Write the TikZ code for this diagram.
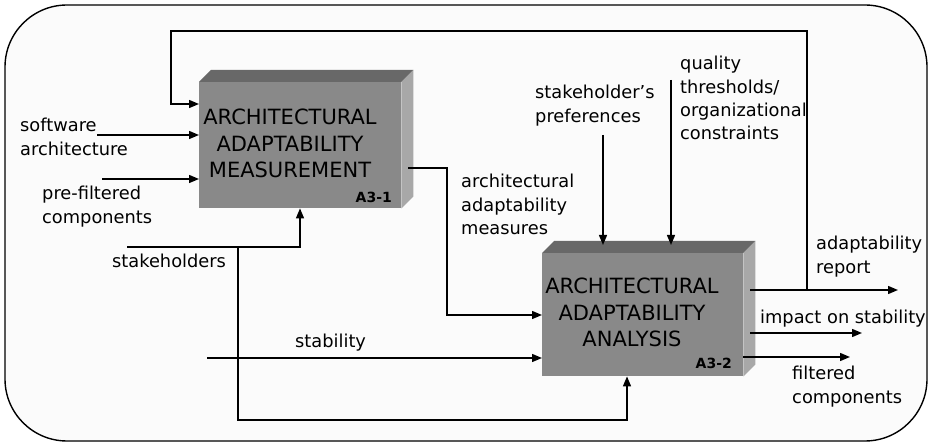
\documentclass[tikz,border=0pt]{standalone}
\usepackage{fontspec}
\setmainfont{DejaVu Sans}
\usetikzlibrary{arrows.meta}
\definecolor{bgc}{RGB}{251,251,251}
\definecolor{frontg}{RGB}{137,137,137}
\definecolor{topg}{RGB}{104,104,104}
\definecolor{sideg}{RGB}{168,168,168}
\newcommand{\lblL}[1]{\begin{tabular}[t]{@{}l@{}}#1\end{tabular}}
\newcommand{\lblC}[1]{\begin{tabular}[t]{@{}c@{}}#1\end{tabular}}
\begin{document}
\begin{tikzpicture}[x=1pt,y=-1pt,
  conn/.style={draw=black, line width=1.4pt},
  arr/.style={conn, -{Triangle[length=10pt,width=8pt]}},
  lbl/.style={anchor=base west, inner sep=0pt, font=\fontsize{17.8}{23.3}\selectfont},
  boxtxt/.style={anchor=base, inner sep=0pt, font=\fontsize{21}{26.5}\selectfont},
  code/.style={anchor=base east, inner sep=0pt, font=\fontsize{14}{16}\selectfont\bfseries},
  front/.style={fill=frontg, draw=none, inner sep=0pt, anchor=north west}]
\useasboundingbox (0,0) rectangle (929,443);
\fill[white] (0,0) rectangle (929,443);
\draw[fill=bgc, line width=1.4pt, rounded corners=62pt] (5,5) rectangle (927,441);

% boxes
\node[front, minimum width=202pt, minimum height=126pt] (m1) at (199,82) {};
\fill[topg] (m1.north west) -- ++(12,-12) -- ([shift={(12,-12)}]m1.north east) -- (m1.north east) -- cycle;
\fill[sideg] (m1.north east) -- ++(12,-12) -- ([shift={(12,-12)}]m1.south east) -- (m1.south east) -- cycle;
\node[front, minimum width=201pt, minimum height=123pt] (m2) at (542,253) {};
\fill[topg] (m2.north west) -- ++(12,-12) -- ([shift={(12,-12)}]m2.north east) -- (m2.north east) -- cycle;
\fill[sideg] (m2.north east) -- ++(12,-12) -- ([shift={(12,-12)}]m2.south east) -- (m2.south east) -- cycle;

\node[boxtxt] (t1) at (290,125) {\lblC{ARCHITECTURAL\\ADAPTABILITY\\MEASUREMENT}};
\node[code] (c1) at (392,203) {A3-1};
\node[boxtxt] (t2) at (632,294) {\lblC{ARCHITECTURAL\\ADAPTABILITY\\ANALYSIS}};
\node[code] (c2) at (732,369) {A3-2};

% labels
\node[lbl] (lsw) at (20,132) {\lblL{software\\architecture}};
\node[lbl] (lpf) at (42,200) {\lblL{pre-filtered\\components}};
\node[lbl] (lsk) at (112,268) {stakeholders};
\node[lbl] (lst) at (295,348) {stability};
\node[lbl] (lam) at (461,188) {\lblL{architectural\\adaptability\\measures}};
\node[lbl] (lsp) at (535,99) {\lblL{stakeholder's\\preferences}};
\node[lbl] (lqt) at (680,70) {\lblL{quality\\thresholds/\\organizational\\constraints}};
\node[lbl] (lrp) at (816,250) {\lblL{adaptability\\report}};
\node[lbl] (lim) at (760,324) {impact on stability};
\node[lbl] (lfc) at (792,380) {\lblL{filtered\\components}};

% coordinates
\coordinate (swS) at (97,135);
\coordinate (pfS) at (102,179);
\coordinate (fbJ) at (807,290);
\coordinate (fbT) at (807,31);
\coordinate (fbL) at (171,31);
\coordinate (fbB) at (171,104);
\coordinate (rpE) at (898,290);
\coordinate (skS) at (127,247);
\coordinate (skC) at (300,247);
\coordinate (skJ) at (238,247);
\coordinate (skD) at (238,420);
\coordinate (skE) at (627,420);
\coordinate (stS) at (207,358);
\coordinate (amA) at (447,168);
\coordinate (amB) at (447,315);
\coordinate (spS) at (603,135);
\coordinate (qtS) at (671,80);
\coordinate (imE) at (862,333);
\coordinate (fcE) at (850,357);

% connectors
\draw[arr] (swS) -- (swS -| m1.west);
\draw[arr] (pfS) -- (pfS -| m1.west);
\draw[arr] (fbJ) -- (fbT) -- (fbL) -- (fbB) -- (fbB -| m1.west);
\draw[arr] ([xshift=7pt]m2.east |- fbJ) -- (rpE);
\draw[arr] (skS) -- (skC) -- (skC |- m1.south);
\draw[arr] (skJ) -- (skD) -- (skE) -- (skE |- m2.south);
\draw[arr] (stS) -- (stS -| m2.west);
\draw[arr] ([xshift=7pt]m1.east |- amA) -- (amA) -- (amB) -- (amB -| m2.west);
\draw[arr] (spS) -- ([yshift=8pt]spS |- m2.north);
\draw[arr] (qtS) -- ([yshift=8pt]qtS |- m2.north);
\draw[arr] ([xshift=7pt]m2.east |- imE) -- (imE);
\draw[arr] (m2.east |- fcE) -- (fcE);
\end{tikzpicture}
\end{document}
